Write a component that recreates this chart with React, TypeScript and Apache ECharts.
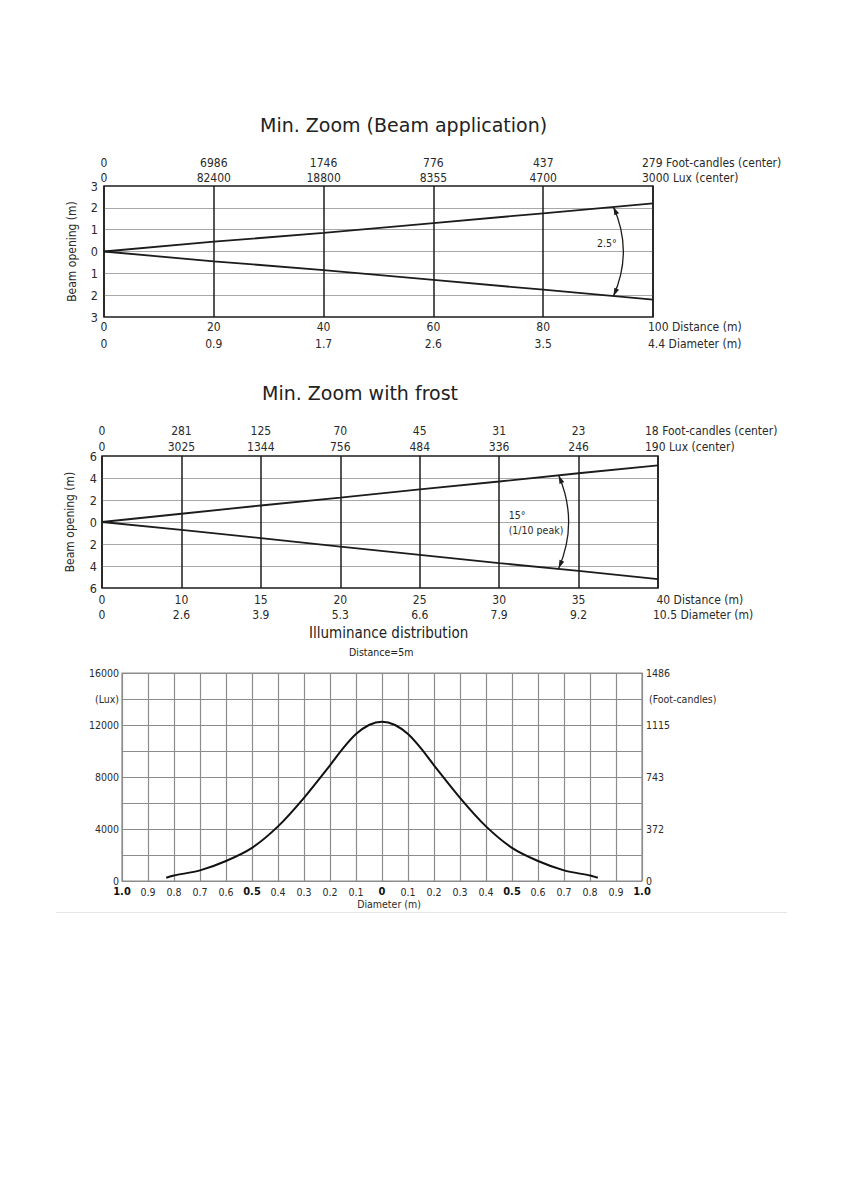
import { useEffect, useRef } from "react";
import * as echarts from "echarts";

const FONT = '"DejaVu Sans Condensed", "DejaVu Sans", sans-serif';
const TITLE_FONT = '"DejaVu Sans", sans-serif';
const TXT = "#2a2a2a";
const DARK = "#1c1c1c";
const LIGHT_GRID = "#a8a8a8";
const MID_GRID = "#8c8c8c";

// ---- Chart 1: Min. Zoom (Beam application)
const distance1 = [0, 20, 40, 60, 80, 100];
const diameter1 = [0, 0.9, 1.7, 2.6, 3.5, 4.4];
const footCandles1 = [0, 6986, 1746, 776, 437, 279];
const lux1 = [0, 82400, 18800, 8355, 4700, 3000];
const beamLabel1 = "2.5°";
// arc annotation: [x, yTop, yBottom, ctrlX, labelX, labelY]
const beamArc1 = [92.8, 2.04, -2.04, 96.4, 91.6, 0.4];

// ---- Chart 2: Min. Zoom with frost
const distance2 = [0, 10, 15, 20, 25, 30, 35, 40];
const diameter2 = [0, 2.6, 3.9, 5.3, 6.6, 7.9, 9.2, 10.5];
const footCandles2 = [0, 281, 125, 70, 45, 31, 23, 18];
const lux2 = [0, 3025, 1344, 756, 484, 336, 246, 190];
const beamUpper2 = [0, 0.75, 1.5, 2.22, 2.96, 3.68, 4.43, 5.14];
const beamLower2 = [0, -0.71, -1.46, -2.24, -2.99, -3.74, -4.45, -5.2];
const beamLabel2 = "15°\n(1/10 peak)";
const beamArc2 = [5.75, 4.22, -4.2, 6.0, 5.12, 0];

// ---- Chart 3: Illuminance distribution
const diameterX = [-0.83, -0.8, -0.7, -0.6, -0.5, -0.4, -0.3, -0.2, -0.15, -0.1, -0.05, 0, 0.05, 0.1, 0.15, 0.2, 0.3, 0.4, 0.5, 0.6, 0.7, 0.8, 0.83];
const illuminance = [250, 420, 820, 1540, 2550, 4200, 6400, 8900, 10200, 11300, 12000, 12250, 12000, 11300, 10200, 8900, 6400, 4200, 2550, 1540, 820, 420, 250];
const luxTicks = [0, 4000, 8000, 12000, 16000];
const fcTicks = [0, 372, 743, 1115, 1486];
const boldTicks = [1, 0.5, 0];

const last1 = distance1.length - 1;
const last2 = distance2.length - 1;

function arcRender(labelText: string) {
  return (params: any, api: any) => {
    const top = api.coord([api.value(0), api.value(1)]);
    const bot = api.coord([api.value(0), api.value(2)]);
    const ctrl = api.coord([api.value(3), (api.value(1) + api.value(2)) / 2]);
    const lab = api.coord([api.value(4), api.value(5)]);
    const arrow = (tip: number[]) => {
      let dx = tip[0] - ctrl[0];
      let dy = tip[1] - ctrl[1];
      const len = Math.sqrt(dx * dx + dy * dy) || 1;
      dx /= len;
      dy /= len;
      const bx = tip[0] - dx * 8;
      const by = tip[1] - dy * 8;
      const nx = -dy * 2.6;
      const ny = dx * 2.6;
      return {
        type: "polygon",
        shape: { points: [[tip[0], tip[1]], [bx + nx, by + ny], [bx - nx, by - ny]] },
        style: { fill: DARK },
      };
    };
    return {
      type: "group",
      children: [
        {
          type: "bezierCurve",
          shape: { x1: top[0], y1: top[1], x2: bot[0], y2: bot[1], cpx1: ctrl[0], cpy1: ctrl[1] },
          style: { stroke: DARK, lineWidth: 1.3, fill: null },
        },
        arrow(top),
        arrow(bot),
        {
          type: "text",
          x: lab[0],
          y: lab[1],
          style: {
            text: labelText,
            fill: TXT,
            fontFamily: FONT,
            fontSize: 10.5,
            lineHeight: 15,
            align: labelText.indexOf("\n") >= 0 ? "left" : "center",
            verticalAlign: "middle",
          },
        },
      ],
    };
  };
}

export default function App() {
  const ref = useRef<HTMLDivElement>(null);

  useEffect(() => {
    if (!ref.current) return;
    const chart = echarts.init(ref.current, null, { renderer: "svg" });

    const lbl = (size: number, extra: any = {}) => ({
      fontFamily: FONT,
      fontSize: size,
      color: TXT,
      ...extra,
    });
    const noLine = { show: false, onZero: false };

    const option: any = {
      animation: false,
      backgroundColor: "#ffffff",
      title: [
        { text: "Min. Zoom (Beam application)", left: 260, top: 115, padding: 0, textStyle: { fontFamily: TITLE_FONT, fontSize: 19, fontWeight: "normal", color: "#222" } },
        { text: "Min. Zoom with frost", left: 262, top: 383, padding: 0, textStyle: { fontFamily: TITLE_FONT, fontSize: 19, fontWeight: "normal", color: "#222" } },
        { text: "Illuminance distribution", left: 309, top: 625, padding: 0, textStyle: { fontFamily: FONT, fontSize: 15, fontWeight: "normal", color: "#222" } },
        { text: "Distance=5m", left: 349, top: 646, padding: 0, textStyle: { fontFamily: FONT, fontSize: 10.5, fontWeight: "normal", color: "#222" } },
      ],
      grid: [
        { left: 104, top: 186, width: 549, height: 131, show: true, borderColor: DARK, borderWidth: 1.5, backgroundColor: "transparent", outerBoundsMode: "none", containLabel: false },
        { left: 102, top: 456, width: 556, height: 132, show: true, borderColor: DARK, borderWidth: 1.5, backgroundColor: "transparent", outerBoundsMode: "none", containLabel: false },
        { left: 122, top: 673, width: 520, height: 208, show: true, borderColor: MID_GRID, borderWidth: 1.2, backgroundColor: "transparent", outerBoundsMode: "none", containLabel: false },
      ],
      xAxis: [
        // 0: chart 1 bottom (distance / diameter)
        {
          gridIndex: 0, type: "value", position: "bottom", min: 0, max: 100, interval: 20,
          axisLine: noLine, axisTick: { show: false },
          splitLine: { show: true, lineStyle: { color: DARK, width: 1.5 } },
          axisLabel: lbl(12, {
            margin: 1, lineHeight: 17,
            formatter: (v: number) => {
              const i = distance1.indexOf(Math.round(v));
              return i < 0 || i === last1 ? "" : `${distance1[i]}\n${diameter1[i]}`;
            },
          }),
          name: `${distance1[last1]} Distance (m)\n${diameter1[last1]} Diameter (m)`,
          nameLocation: "end", nameGap: -5, nameMoveOverlap: false,
          nameTextStyle: lbl(12, { lineHeight: 17, align: "left", verticalAlign: "top", padding: [1, 0, 0, 0] }),
        },
        // 1: chart 1 top (foot-candles / lux)
        {
          gridIndex: 0, type: "value", position: "top", min: 0, max: 100, interval: 20,
          axisLine: noLine, axisTick: { show: false }, splitLine: { show: false },
          axisLabel: lbl(12, {
            margin: 1, lineHeight: 15,
            formatter: (v: number) => {
              const i = distance1.indexOf(Math.round(v));
              return i < 0 || i === last1 ? "" : `${footCandles1[i]}\n${lux1[i]}`;
            },
          }),
          name: `${footCandles1[last1]} Foot-candles (center)\n${lux1[last1]} Lux (center)`,
          nameLocation: "end", nameGap: -11, nameMoveOverlap: false,
          nameTextStyle: lbl(12, { lineHeight: 15, align: "left", verticalAlign: "bottom", padding: [0, 0, 1, 0] }),
        },
        // 2: chart 2 bottom
        {
          gridIndex: 1, type: "value", position: "bottom", min: 0, max: last2, interval: 1,
          axisLine: noLine, axisTick: { show: false },
          splitLine: { show: true, lineStyle: { color: DARK, width: 1.5 } },
          axisLabel: lbl(12, {
            margin: 4, lineHeight: 15,
            formatter: (v: number) => {
              const i = Math.round(v);
              return i === last2 ? "" : `${distance2[i]}\n${diameter2[i]}`;
            },
          }),
          name: ` ${distance2[last2]} Distance (m)\n${diameter2[last2]} Diameter (m)`,
          nameLocation: "end", nameGap: -5, nameMoveOverlap: false,
          nameTextStyle: lbl(12, { lineHeight: 15, align: "left", verticalAlign: "top", padding: [4, 0, 0, 0] }),
        },
        // 3: chart 2 top
        {
          gridIndex: 1, type: "value", position: "top", min: 0, max: last2, interval: 1,
          axisLine: noLine, axisTick: { show: false }, splitLine: { show: false },
          axisLabel: lbl(12, {
            margin: 1, lineHeight: 16,
            formatter: (v: number) => {
              const i = Math.round(v);
              return i === last2 ? "" : `${footCandles2[i]}\n${lux2[i]}`;
            },
          }),
          name: `${footCandles2[last2]} Foot-candles (center)\n${lux2[last2]} Lux (center)`,
          nameLocation: "end", nameGap: -13, nameMoveOverlap: false,
          nameTextStyle: lbl(12, { lineHeight: 16, align: "left", verticalAlign: "bottom", padding: [0, 0, 1, 0] }),
        },
        // 4: chart 3 bottom (diameter)
        {
          gridIndex: 2, type: "value", position: "bottom", min: -1, max: 1, interval: 0.1,
          axisLine: noLine, axisTick: { show: false },
          splitLine: { show: true, lineStyle: { color: MID_GRID, width: 1.2 } },
          axisLabel: lbl(10.5, {
            margin: 5,
            formatter: (v: number) => {
              const a = Math.round(Math.abs(v) * 10) / 10;
              const t = a === 0 ? "0" : a.toFixed(1);
              return boldTicks.indexOf(a) >= 0 ? `{b|${t}}` : t;
            },
            rich: { b: { fontFamily: FONT, fontSize: 11, fontWeight: "bold", color: "#111" } },
          }),
          name: "Diameter (m)",
          nameLocation: "middle", nameGap: 17, nameMoveOverlap: false,
          nameTextStyle: lbl(10.5, { padding: [0, 0, 0, 14] }),
        },
      ],
      yAxis: [
        {
          gridIndex: 0, type: "value", min: -3, max: 3, interval: 1,
          axisLine: noLine, axisTick: { show: false },
          splitLine: { show: true, showMinLine: false, showMaxLine: false, lineStyle: { color: LIGHT_GRID, width: 1.2 } },
          axisLabel: lbl(12.5, { margin: 6, formatter: (v: number) => String(Math.abs(v)) }),
          name: "Beam opening (m)", nameLocation: "middle", nameGap: 26, nameRotate: 90, nameMoveOverlap: false,
          nameTextStyle: lbl(12),
        },
        {
          gridIndex: 1, type: "value", min: -6, max: 6, interval: 2,
          axisLine: noLine, axisTick: { show: false },
          splitLine: { show: true, showMinLine: false, showMaxLine: false, lineStyle: { color: LIGHT_GRID, width: 1.2 } },
          axisLabel: lbl(12.5, { margin: 5, formatter: (v: number) => String(Math.abs(v)) }),
          name: "Beam opening (m)", nameLocation: "middle", nameGap: 26, nameRotate: 90, nameMoveOverlap: false,
          nameTextStyle: lbl(12),
        },
        {
          gridIndex: 2, type: "value", position: "left", min: 0, max: 16000, interval: 2000,
          axisLine: noLine, axisTick: { show: false },
          splitLine: { show: true, lineStyle: { color: MID_GRID, width: 1.2 } },
          axisLabel: lbl(10.5, {
            margin: 3,
            formatter: (v: number) => (luxTicks.indexOf(v) >= 0 ? String(v) : v === 14000 ? "(Lux)" : ""),
          }),
        },
        {
          gridIndex: 2, type: "value", position: "right", min: 0, max: 16000, interval: 2000,
          axisLine: noLine, axisTick: { show: false }, splitLine: { show: false },
          axisLabel: lbl(10.5, {
            margin: 4,
            formatter: (v: number) => {
              const i = luxTicks.indexOf(v);
              return i >= 0 ? String(fcTicks[i]) : v === 14000 ? " (Foot-candles)" : "";
            },
          }),
        },
      ],
      series: [
        {
          type: "line", xAxisIndex: 0, yAxisIndex: 0, symbol: "none", silent: true,
          data: distance1.map((d, i) => [d, diameter1[i] / 2]),
          lineStyle: { color: DARK, width: 1.8 },
        },
        {
          type: "line", xAxisIndex: 0, yAxisIndex: 0, symbol: "none", silent: true,
          data: distance1.map((d, i) => [d, -diameter1[i] / 2]),
          lineStyle: { color: DARK, width: 1.8 },
        },
        {
          type: "custom", xAxisIndex: 0, yAxisIndex: 0, silent: true,
          data: [beamArc1], renderItem: arcRender(beamLabel1), z: 5,
        },
        {
          type: "line", xAxisIndex: 2, yAxisIndex: 1, symbol: "none", silent: true,
          data: beamUpper2.map((v, i) => [i, v]),
          lineStyle: { color: DARK, width: 1.8 },
        },
        {
          type: "line", xAxisIndex: 2, yAxisIndex: 1, symbol: "none", silent: true,
          data: beamLower2.map((v, i) => [i, v]),
          lineStyle: { color: DARK, width: 1.8 },
        },
        {
          type: "custom", xAxisIndex: 2, yAxisIndex: 1, silent: true,
          data: [beamArc2], renderItem: arcRender(beamLabel2), z: 5,
        },
        {
          type: "line", xAxisIndex: 4, yAxisIndex: 2, symbol: "none", silent: true, smooth: 0.3,
          data: diameterX.map((x, i) => [x, illuminance[i]]),
          lineStyle: { color: "#111", width: 2 },
        },
      ],
      graphic: [
        { type: "line", shape: { x1: 56, y1: 912.5, x2: 787, y2: 912.5 }, style: { stroke: "#e6e6e6", lineWidth: 1 }, silent: true },
      ],
    };

    chart.setOption(option);
    return () => chart.dispose();
  }, []);

  return (
    <div
      ref={ref}
      style={{ position: "absolute", left: 0, top: 0, width: 843, height: 1192 }}
    />
  );
}
